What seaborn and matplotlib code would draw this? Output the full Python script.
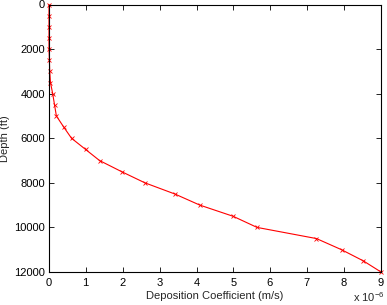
import matplotlib
matplotlib.use("Agg")
import matplotlib.pyplot as plt
import matplotlib.ticker as mticker
import seaborn as sns
import pandas as pd

depth_ft = [0, 500, 1000, 1500, 2000, 2500, 3000, 3500, 4000, 4500, 5000, 5500,
            6000, 6500, 7000, 7500, 8000, 8500, 9000, 9500, 10000, 10500, 11000,
            11500, 12000]
coef_e6 = [0.0, 0.0, 0.0, 0.0, 0.0, 0.01, 0.02, 0.04, 0.10, 0.15, 0.20, 0.40,
           0.61, 0.99, 1.37, 1.97, 2.60, 3.41, 4.09, 4.99, 5.64, 7.25, 7.93,
           8.52, 9.0]

df = pd.DataFrame({"coef": [c * 1e-6 for c in coef_e6], "depth": depth_ft})

sns.set_style("ticks")
plt.rcParams['font.family'] = ['Liberation Sans', 'DejaVu Sans']
plt.rcParams['mathtext.fontset'] = 'custom'
plt.rcParams['mathtext.rm'] = 'Liberation Sans'

fig = plt.figure(figsize=(3.87, 3.05), dpi=100)
ax = fig.add_axes([49/387, 1 - 272/305, (381-49)/387, (272-4.5)/305])

sns.lineplot(data=df, x="coef", y="depth", sort=False, estimator=None,
             color="red", marker="x", markersize=3.5, markeredgewidth=0.6,
             markeredgecolor="red", linewidth=0.8, ax=ax, clip_on=False)

ax.set_xlim(0, 9e-6)
ax.set_ylim(12000, 0)
ax.set_xticks([i * 1e-6 for i in range(10)])
ax.set_yticks(range(0, 12001, 2000))
fmt = mticker.ScalarFormatter(useMathText=True)
fmt.set_powerlimits((0, 0))
ax.xaxis.set_major_formatter(fmt)
ax.xaxis.get_offset_text().set_visible(False)
ax.tick_params(direction="in", length=3.5, width=0.6, labelsize=8,
               top=True, right=True, colors="black", pad=3)
for s in ax.spines.values():
    s.set_linewidth(0.8)
    s.set_color("black")
ax.set_xlabel("Deposition Coefficient (m/s)", fontsize=8, labelpad=2)
ax.set_ylabel("Depth (ft)", fontsize=8, labelpad=3)
fig.text(385/387, 1 - 297/305, r"x 10$^{-6}$", fontsize=8, ha="right", va="center")

fig.savefig("out.png", dpi=100)
